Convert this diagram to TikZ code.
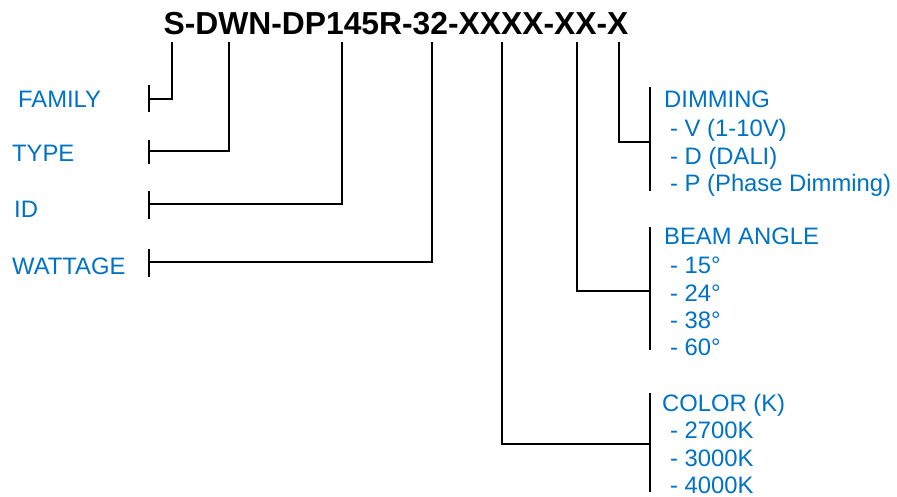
\documentclass[tikz,border=0pt]{standalone}
\usepackage{fontspec}
\setmainfont{Liberation Sans}
\definecolor{lblue}{RGB}{0,114,198}
\begin{document}
\begin{tikzpicture}[x=1pt,y=-1pt,
  conn/.style={line width=2.3pt,line cap=rect},
  tick/.style={line width=2.3pt},
  lbl/.style={anchor=base west,inner sep=0pt,text=lblue,font=\fontsize{23.8}{28}\selectfont},
  ttl/.style={anchor=base,inner sep=0pt,font=\fontsize{31.8}{36}\selectfont\bfseries}]
\useasboundingbox[fill=white] (0,0) rectangle (897,497);
\node[ttl] (title) at (396,35) {S-DWN-DP145R-32-XXXX-XX-X};
% left labels
\node[lbl] (family) at (18,108) {FAMILY};
\node[lbl] (type) at (12,162) {TYPE};
\node[lbl] (id) at (14,218) {ID};
\node[lbl] (watt) at (12,274) {WATTAGE};
% ticks on the left
\coordinate (tf) at (149,99);
\coordinate (tt) at (149,151);
\coordinate (ti) at (149,204);
\coordinate (tw) at (149,262);
\draw[tick] (149,85) -- (149,112);
\draw[tick] (149,140) -- (149,164);
\draw[tick] (149,191) -- (149,219);
\draw[tick] (149,249) -- (149,277);
% tops
\coordinate (sf) at (172,43);
\coordinate (st) at (229,43);
\coordinate (si) at (342,43);
\coordinate (sw) at (432,43);
\coordinate (sc) at (502,43);
\coordinate (sb) at (577,43);
\coordinate (sd) at (619,43);
\draw[conn] (sf) |- (tf);
\draw[conn] (st) |- (tt);
\draw[conn] (si) |- (ti);
\draw[conn] (sw) |- (tw);
% right brackets
\coordinate (bd) at (650,142);
\coordinate (bb) at (650,291);
\coordinate (bc) at (650,444);
\draw[tick] (650,87) -- (650,191);
\draw[tick] (650,227) -- (650,350);
\draw[tick] (650,393) -- (650,492);
\draw[conn] (sd) |- (bd);
\draw[conn] (sb) |- (bb);
\draw[conn] (sc) |- (bc);
% right labels
\node[lbl] (dim) at (664,108) {DIMMING};
\node[lbl] (dim1) at (670,137) {- V (1-10V)};
\node[lbl] (dim2) at (670,165) {- D (DALI)};
\node[lbl] (dim3) at (670,192) {- P (Phase Dimming)};
\node[lbl] (beam) at (664,245) {BEAM ANGLE};
\node[lbl] (b1) at (670,273) {- 15°};
\node[lbl] (b2) at (670,301) {- 24°};
\node[lbl] (b3) at (670,328) {- 38°};
\node[lbl] (b4) at (670,355) {- 60°};
\node[lbl] (col) at (662,411) {COLOR (K)};
\node[lbl] (c1) at (670,438) {- 2700K};
\node[lbl] (c2) at (670,466) {- 3000K};
\node[lbl] (c3) at (670,493) {- 4000K};
\end{tikzpicture}
\end{document}
